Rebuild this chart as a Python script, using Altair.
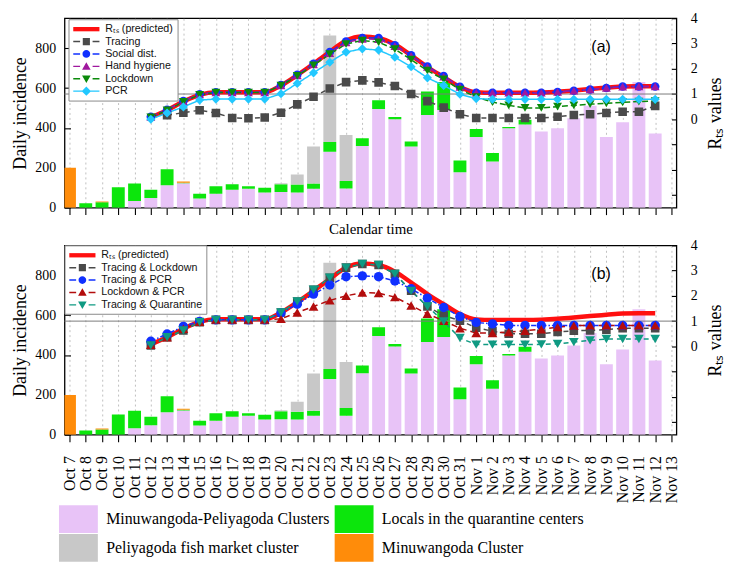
import altair as alt
import pandas as pd

# ---------------- data ----------------
days = ["Oct 7", "Oct 8", "Oct 9", "Oct 10", "Oct 11", "Oct 12", "Oct 13", "Oct 14", "Oct 15",
        "Oct 16", "Oct 17", "Oct 18", "Oct 19", "Oct 20", "Oct 21", "Oct 22", "Oct 23", "Oct 24",
        "Oct 25", "Oct 26", "Oct 27", "Oct 28", "Oct 29", "Oct 30", "Oct 31", "Nov 1", "Nov 2",
        "Nov 3", "Nov 4", "Nov 5", "Nov 6", "Nov 7", "Nov 8", "Nov 9", "Nov 10", "Nov 11",
        "Nov 12", "Nov 13"]

bar_categories = ["Minuwangoda-Peliyagoda Clusters", "Locals in the quarantine centers",
                  "Peliyagoda fish market cluster", "Minuwangoda Cluster"]
bar_colors = ["#e8c3f7", "#0ce60c", "#c8c8c8", "#ff8c0a"]

mp_clusters = [0, 0, 0, 0, 33, 48, 113, 122, 46, 70, 90, 95, 76, 78, 76, 95, 280, 96, 309,
               495, 443, 307, 465, 490, 178, 354, 231, 398, 417, 382, 398, 448, 511, 354, 428,
               630, 372, 0]
quarantine_locals = [0, 22, 27, 102, 88, 42, 80, 3, 24, 38, 28, 13, 24, 40, 40, 26, 50, 38, 39,
                     44, 12, 25, 118, 140, 59, 41, 43, 7, 24, 0, 0, 0, 0, 0, 0, 0, 0, 0]
fish_market = [0, 0, 0, 0, 0, 0, 0, 0, 0, 0, 0, 0, 0, 5, 50, 186, 533, 231, 0,
               0, 0, 0, 0, 0, 0, 0, 0, 0, 0, 0, 0, 0, 0, 0, 0, 0, 0, 0]
minuwangoda = [200, 0, 4, 0, 0, 0, 0, 6, 0, 0, 0, 0, 0, 0, 0, 0, 0, 0, 0,
               0, 0, 0, 0, 0, 0, 0, 0, 0, 0, 0, 0, 0, 0, 0, 0, 0, 0, 0]

LINE_START = 5  # Oct 12

rts_predicted = [0.08, 0.36, 0.70, 0.97, 1.07, 1.07, 1.07, 1.07, 1.34, 1.75, 2.20, 2.67, 3.12,
                 3.28, 3.22, 2.96, 2.53, 2.07, 1.67, 1.28, 1.07, 1.05, 1.05, 1.05, 1.06, 1.09,
                 1.14, 1.20, 1.25, 1.30, 1.31, 1.31]
tracing = [None, 0.16, 0.26, 0.36, 0.25, 0.05, 0.04, 0.07, 0.26, 0.59, 0.89, 1.22, 1.47, 1.54,
           1.46, 1.32, 1.00, 0.72, 0.46, 0.20, 0.05, 0.05, 0.05, 0.05, 0.05, 0.10, 0.17, 0.20,
           0.25, 0.30, 0.30, 0.53]
social_dist = [0.10, 0.38, 0.72, 0.99, 1.07, 1.07, 1.07, 1.07, 1.36, 1.76, 2.20, 2.66, 3.08,
               3.22, 3.22, 2.93, 2.53, 2.09, 1.71, 1.29, 1.05, 1.05, 1.05, 1.05, 1.05, 1.08,
               1.13, 1.18, 1.24, 1.30, 1.30, 1.30]
hand_hygiene = [0.09, 0.37, 0.71, 0.98, 1.06, 1.06, 1.06, 1.06, 1.34, 1.74, 2.17, 2.62, 3.04,
                3.18, 3.17, 2.90, 2.51, 2.07, 1.69, 1.28, 1.05, 1.05, 1.05, 1.05, 1.05, 1.08,
                1.13, 1.18, 1.24, 1.29, 1.30, 1.30]
lockdown = [0.08, 0.35, 0.69, 0.97, 1.06, 1.06, 1.06, 1.06, 1.33, 1.72, 2.14, 2.58, 2.98, 3.12,
            3.05, 2.78, 2.36, 1.93, 1.58, 1.18, 0.88, 0.68, 0.55, 0.45, 0.45, 0.50, 0.55, 0.60,
            0.63, 0.67, 0.70, 0.72]
pcr = [0.00, 0.25, 0.49, 0.76, 0.80, 0.80, 0.80, 0.80, 1.01, 1.42, 1.84, 2.26, 2.66, 2.79, 2.74,
       2.46, 2.08, 1.64, 1.34, 0.99, 0.82, 0.79, 0.79, 0.79, 0.79, 0.79, 0.79, 0.79, 0.79, 0.79,
       0.79, 0.79]

tracing_lockdown = [0.04, 0.36, 0.63, 0.96, 1.05, 1.05, 1.05, 1.05, 1.34, 1.78, 2.24, 2.72, 3.12,
                    3.26, 3.22, 2.87, 2.20, 1.58, 1.22, 1.02, 0.74, 0.60, 0.50, 0.50, 0.50, 0.57,
                    0.62, 0.63, 0.66, 0.72, 0.72, 0.72]
tracing_pcr = [0.20, 0.49, 0.79, 0.99, 1.05, 1.05, 1.05, 1.05, 1.32, 1.67, 2.07, 2.43, 2.76,
               2.79, 2.76, 2.59, 2.28, 1.91, 1.54, 1.18, 0.95, 0.89, 0.83, 0.83, 0.83, 0.83,
               0.83, 0.83, 0.83, 0.83, 0.83, 0.83]
lockdown_pcr = [0.06, 0.36, 0.70, 0.97, 1.06, 1.06, 1.06, 1.06, 1.09, 1.34, 1.58, 1.82, 2.00,
                2.13, 2.11, 1.95, 1.62, 1.29, 1.01, 0.72, 0.53, 0.53, 0.57, 0.62, 0.68, 0.76,
                0.82, 0.83, 0.83, 0.83, 0.83, 0.83]
tracing_quarantine = [0.04, 0.36, 0.63, 0.96, 1.05, 1.05, 1.05, 1.05, 1.34, 1.78, 2.24, 2.72,
                      3.12, 3.26, 3.22, 2.87, 2.20, 1.58, 0.99, 0.33, 0.07, 0.07, 0.07, 0.07,
                      0.08, 0.10, 0.17, 0.24, 0.29, 0.29, 0.29, 0.29]

RTS_NAME = "Rₜₛ (predicted)"

# ---------------- styles ----------------
SERIF = "Liberation Serif"
SANS = "Liberation Sans"
RED = "#ff1010"

STUBS = "M-2.2,-0.12H-1.05V0.12H-2.2Z M1.05,-0.12H2.2V0.12H1.05Z"
FULL_LINE = "M-2.2,-0.12H2.2V0.12H-2.2Z"
MK = {
    "square": "M-0.6,-0.6H0.6V0.6H-0.6Z",
    "circle": "M-0.65,0A0.65,0.65 0 1,0 0.65,0A0.65,0.65 0 1,0 -0.65,0Z",
    "triangle-up": "M0,-0.7L0.72,0.55H-0.72Z",
    "triangle-down": "M0,0.7L0.72,-0.55H-0.72Z",
    "diamond": "M0,-0.78L0.78,0L0,0.78L-0.78,0Z",
}
RTS_PATH = "M-2.2,-0.36H2.2V0.36H-2.2Z"

panel_a_series = [
    ("Tracing", tracing, "#4a4a4a", [5, 4], "square", 75, STUBS),
    ("Social dist.", social_dist, "#1030ff", [7, 3], "circle", 75, STUBS),
    ("Hand hygiene", hand_hygiene, "#a0189e", [7, 3], "triangle-up", 80, STUBS),
    ("Lockdown", lockdown, "#0b8a0b", [6, 3], "triangle-down", 80, STUBS),
    ("PCR", pcr, "#22c8ff", [1, 0], "diamond", 85, FULL_LINE),
]
panel_b_series = [
    ("Tracing & Lockdown", tracing_lockdown, "#4a4a4a", [5, 4], "square", 75, STUBS),
    ("Tracing & PCR", tracing_pcr, "#1030ff", [5, 2, 1.5, 2], "circle", 90, STUBS),
    ("Lockdown & PCR", lockdown_pcr, "#b30d0d", [6, 4], "triangle-up", 95, STUBS),
    ("Tracing & Quarantine", tracing_quarantine, "#0f9a82", [5, 4], "triangle-down", 95, STUBS),
]

XSCALE = alt.Scale(domain=[0, len(days) - 1], nice=False, zero=False)
LSCALE = alt.Scale(domain=[0, 950], nice=False, zero=False)
RSCALE = alt.Scale(domain=[-3.5, 4], nice=False, zero=False)

label_expr = "[" + ",".join("'%s'" % d for d in days) + "][round(datum.value)]"

# ---------------- tables ----------------
bar_rows = []
for o, (cat, vals) in enumerate(zip(bar_categories,
                                    [mp_clusters, quarantine_locals, fish_market, minuwangoda])):
    for i, v in enumerate(vals):
        if v > 0:
            bar_rows.append({"d": i, "category": cat, "value": v, "o": o})
bar_df = pd.DataFrame(bar_rows)


def series_df(name, vals):
    return pd.DataFrame([{"d": LINE_START + i, "series": name, "R": v}
                         for i, v in enumerate(vals) if v is not None])


def x_axis(show_labels, title):
    kw = dict(values=list(range(len(days))), grid=True, gridDash=[2, 3], gridColor="#b0b0b0",
              gridWidth=0.8, domain=False, ticks=True, tickSize=7, tickColor="black",
              tickWidth=1.1, labels=show_labels, title=title)
    if show_labels:
        kw.update(labelExpr=label_expr, labelAngle=270, labelAlign="right",
                  labelBaseline="middle", labelFont=SERIF, labelFontSize=16, labelPadding=14,
                  labelOverlap=False, labelFlush=False, labelColor="black")
    if title:
        kw.update(titleFont=SERIF, titleFontSize=15, titleFontWeight="normal", titlePadding=6,
                  titleColor="black")
    return alt.Axis(**kw)


left_axis = alt.Axis(orient="left", values=[0, 200, 400, 600, 800], title="Daily incidence",
                     domain=False, grid=False, offset=-6, tickSize=6, tickColor="black",
                     tickWidth=1.1, labelFont=SERIF, labelFontSize=14, labelPadding=9,
                     labelColor="black", titleFont=SERIF, titleFontSize=18,
                     titleFontWeight="normal", titlePadding=5, titleColor="black")

right_axis = alt.Axis(orient="right", values=[-3, -2, -1, 0, 1, 2, 3, 4],
                      labelExpr="datum.value >= 0 ? datum.label : ''", title="Rₜₛ values",
                      domain=False, grid=False, offset=-5, tickSize=5, tickColor="black",
                      tickWidth=1.1, labelFont=SERIF, labelFontSize=14, labelPadding=14,
                      labelColor="black", titleFont=SERIF, titleFontSize=18,
                      titleFontWeight="normal", titlePadding=9, titleColor="black",
                      titleAngle=270, titleBaseline="top")


def make_panel(series, show_labels, x_title, label, legend_x, legend_y, bar_legend):
    xa = x_axis(show_labels, x_title)
    xe = alt.X("d:Q", scale=XSCALE, axis=xa)
    ye = alt.Y("R:Q", scale=RSCALE, axis=right_axis)

    bars = alt.Chart(bar_df).mark_bar(size=13, clip=True).encode(
        x=xe,
        y=alt.Y("value:Q", stack="zero", scale=LSCALE, axis=left_axis),
        color=alt.Color("category:N", scale=alt.Scale(domain=bar_categories, range=bar_colors),
                        legend=bar_legend),
        order=alt.Order("o:Q", sort="ascending"),
    )

    names = [RTS_NAME] + [s[0] for s in series]
    colors = [RED] + [s[2] for s in series]
    paths = [RTS_PATH] + [s[6] + " " + MK[s[4]] for s in series]
    cscale = alt.Scale(domain=names, range=colors)

    # legend symbol chosen per legend entry
    shape_expr = "'" + paths[-1] + "'"
    for n, p in reversed(list(zip(names[:-1], paths[:-1]))):
        shape_expr = "datum.value == '%s' ? '%s' : (%s)" % (n, p, shape_expr)

    ref = alt.Chart(pd.DataFrame({"R": [1.0]})).mark_rule(color="#7a7a7a", strokeWidth=1).encode(
        y=ye)

    rts = alt.Chart(series_df(RTS_NAME, rts_predicted)).mark_line(
        interpolate="monotone", color=RED, strokeWidth=4.5, clip=True).encode(x=xe, y=ye)

    line_df = pd.concat([series_df(s[0], s[1]) for s in series], ignore_index=True)

    lines = []
    points = []
    for name, _vals, col, dash, shape, size, _stub in series:
        sub = alt.Chart(line_df).transform_filter(alt.datum.series == name)
        lines.append(sub.mark_line(strokeWidth=1.5, color=col, strokeDash=dash, clip=True)
                     .encode(x=xe, y=ye))
        points.append(sub.mark_point(shape=shape, filled=True, size=size, opacity=1,
                                     color=col, clip=True).encode(x=xe, y=ye))

    line_legend = alt.Legend(title=None, orient="none", legendX=legend_x, legendY=legend_y,
                             fillColor="white", strokeColor="#8a8a8a", padding=4,
                             symbolSize=144, symbolStrokeWidth=0, symbolOffset=8,
                             symbolType=alt.ExprRef(shape_expr),
                             labelOffset=13, labelFont=SANS, labelFontSize=10.75,
                             labelColor="#111111", rowPadding=1.5, labelLimit=300,
                             symbolOpacity=1)
    legend_layer = alt.Chart(line_df).transform_filter("false").mark_point(
        filled=True, opacity=1, size=144).encode(
        x=xe, y=ye,
        color=alt.Color("series:N", scale=cscale, legend=line_legend),
    )

    line_group = alt.layer(ref, rts, *lines, *points, legend_layer)

    tag = alt.Chart(pd.DataFrame({"t": [label]})).mark_text(
        font=SANS, fontSize=16, color="black").encode(
        text="t:N", x=alt.value(541), y=alt.value(29))

    return alt.layer(bars, line_group, tag).resolve_scale(
        y="independent", color="independent").properties(width=617, height=191)


bar_legend = alt.Legend(title=None, orient="bottom", direction="horizontal", columns=2,
                        gridAlign="none", symbolType="M-1.4,-1H1.4V1H-1.4Z", symbolSize=784,
                        symbolStrokeWidth=0, symbolOffset=0, labelFont=SERIF, labelFontSize=16,
                        labelColor="black", labelLimit=400, labelOffset=14, columnPadding=4,
                        rowPadding=1, offset=2)

panel_a = make_panel(panel_a_series, False, "Calendar time", "(a)", 4, 1, None)
panel_b = make_panel(panel_b_series, True, None, "(b)", 0, 0, bar_legend)

chart = alt.vconcat(panel_a, panel_b, spacing=0).resolve_scale(
    x="independent", y="independent", color="independent"
).resolve_legend(color="independent").properties(
    padding={"left": 3, "top": 0, "right": 0, "bottom": 3}, background="white"
).configure_view(stroke="black", strokeWidth=1.3)

chart.save("out.html", embed_options={"renderer": "svg", "actions": False})
